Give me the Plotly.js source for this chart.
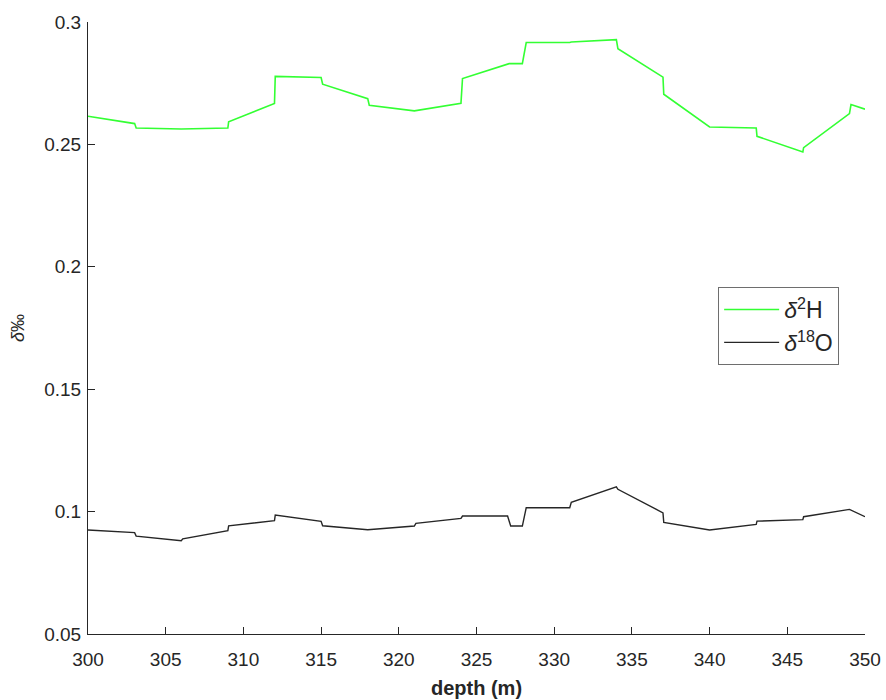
<!DOCTYPE html>
<html>
<head>
<meta charset="utf-8">
<script src="https://cdn.plot.ly/plotly-3.0.1.min.js"></script>
<style>html,body{margin:0;padding:0;background:#fff;}#chart{width:886px;height:700px;}</style>
</head>
<body>
<div id="chart"></div>
<script>
const depthH = [300, 303, 303.1, 306, 309, 309.05, 312, 312.05, 315, 315.1, 318, 318.1, 321, 324, 324.1, 327.1, 327.95, 328.2, 331, 331.1, 334, 334.1, 337, 337.05, 340, 343, 343.05, 346, 346.05, 349, 349.1, 350];
const deltaH = [0.2615, 0.2585, 0.2567, 0.2563, 0.2567, 0.2592, 0.2667, 0.2778, 0.2773, 0.2746, 0.2687, 0.2660, 0.2637, 0.2668, 0.2769, 0.2830, 0.2830, 0.2916, 0.2916, 0.2918, 0.2928, 0.2891, 0.2775, 0.2705, 0.2571, 0.2567, 0.2533, 0.2469, 0.2487, 0.2626, 0.2663, 0.2644];
const depthO = [300, 303, 303.1, 306, 306.1, 309, 309.05, 312, 312.05, 315, 315.1, 318, 321, 321.1, 324, 324.1, 327, 327.2, 327.95, 328.2, 331, 331.1, 334, 334.1, 337, 337.05, 340, 343, 343.05, 346, 346.05, 349, 350];
const deltaO = [0.0925, 0.0914, 0.0900, 0.0881, 0.0889, 0.0922, 0.0942, 0.0963, 0.0986, 0.0960, 0.0942, 0.0926, 0.0941, 0.0952, 0.0972, 0.0982, 0.0982, 0.0941, 0.0941, 0.1016, 0.1016, 0.1038, 0.1101, 0.1091, 0.0995, 0.0956, 0.0925, 0.0948, 0.0961, 0.0967, 0.0979, 0.1009, 0.0979];
const xTicks = [300, 305, 310, 315, 320, 325, 330, 335, 340, 345, 350];
const yTicks = [0.05, 0.1, 0.15, 0.2, 0.25, 0.3];
const yTickText = ['0.05', '0.1', '0.15', '0.2', '0.25', '0.3'];

const traces = [
  {x: depthH, y: deltaH, type: 'scatter', mode: 'lines', name: '<i>δ</i><sup>2</sup>H',
   line: {color: '#33ff33', width: 1.6}},
  {x: depthO, y: deltaO, type: 'scatter', mode: 'lines', name: '<i>δ</i><sup>18</sup>O',
   line: {color: '#262626', width: 1.4}}
];
const fam = 'Arial, Liberation Sans, sans-serif';
const axFont = {family: fam, size: 19, color: '#262626'};
const layout = {
  width: 886, height: 700,
  margin: {l: 88, r: 21, t: 22, b: 66},
  paper_bgcolor: '#fff', plot_bgcolor: '#fff',
  showlegend: true,
  legend: {x: 0.811, y: 0.567, xanchor: 'left', yanchor: 'top',
           bgcolor: '#fff', bordercolor: '#6e6e6e', borderwidth: 1,
           font: {family: fam, size: 23, color: '#262626'},
           itemwidth: 55, tracegroupgap: 6},
  xaxis: {range: [300, 350], tickvals: xTicks, ticktext: xTicks.map(String),
          ticks: 'inside', ticklen: 7, tickcolor: '#262626', tickwidth: 1,
          ticklabelstandoff: 8,
          showline: true, linecolor: '#262626', linewidth: 1, mirror: false,
          showgrid: false, zeroline: false, tickfont: axFont,
          title: {text: '<b>depth (m)</b>', font: {family: fam, size: 20, color: '#262626'}, standoff: 12}},
  yaxis: {range: [0.05, 0.3], tickvals: yTicks, ticktext: yTickText,
          ticks: 'inside', ticklen: 7, tickcolor: '#262626', tickwidth: 1,
          ticklabelstandoff: 2,
          showline: true, linecolor: '#262626', linewidth: 1, mirror: false,
          showgrid: false, zeroline: false, tickfont: axFont,
          title: {text: '<i>δ</i>‰', font: {family: fam, size: 18, color: '#262626'}, standoff: 14}}
};
Plotly.newPlot('chart', traces, layout, {displayModeBar: false, staticPlot: true});
</script>
</body>
</html>
